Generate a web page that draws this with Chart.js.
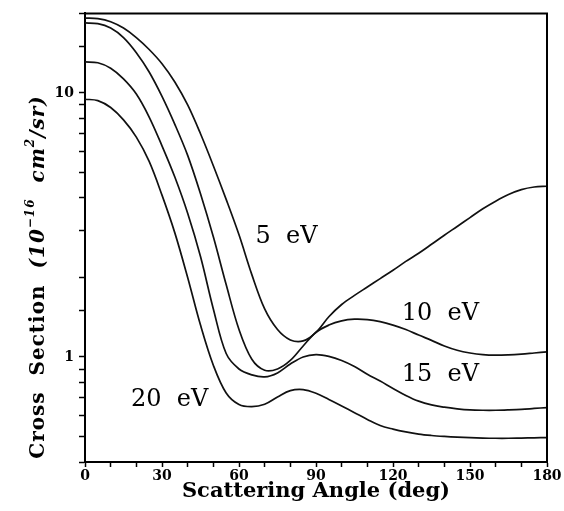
<!DOCTYPE html>
<html>
<head>
<meta charset="utf-8">
<script src="https://cdn.jsdelivr.net/npm/chart.js@4.4.1/dist/chart.umd.min.js"></script>
<style>
  body { margin: 0; background: #fff; }
  #wrap { width: 564px; height: 511px; position: relative; }
</style>
</head>
<body>
<div id="wrap"><canvas id="crossChart"></canvas></div>
<script>
// scattering angle, every 5 degrees from 0 to 180
const ANGLES = [0, 5, 10, 15, 20, 25, 30, 35, 40, 45, 50, 55, 60, 65, 70, 75, 80, 85, 90,
    95, 100, 105, 110, 115, 120, 125, 130, 135, 140, 145, 150, 155, 160, 165, 170, 175, 180];

const CS_5EV = [19.2, 19.1, 18.6, 17.6, 16.2, 14.6, 12.9, 11.0, 9.0, 7.0, 5.3, 3.95, 2.9, 2.05, 1.52, 1.27, 1.16, 1.15, 1.24,
    1.42, 1.58, 1.71, 1.84, 1.98, 2.13, 2.30, 2.47, 2.67, 2.89, 3.12, 3.37, 3.64, 3.89, 4.12, 4.30, 4.40, 4.43];
const CS_10EV = [18.4, 18.3, 17.6, 16.2, 14.2, 12.0, 9.7, 7.6, 5.8, 4.15, 2.85, 1.88, 1.27, 0.98, 0.89, 0.90, 0.97, 1.10, 1.24,
    1.32, 1.37, 1.39, 1.385, 1.36, 1.32, 1.27, 1.21, 1.155, 1.10, 1.06, 1.035, 1.02, 1.015, 1.018, 1.025, 1.035, 1.045];
const CS_15EV = [13.1, 13.0, 12.4, 11.3, 9.9, 8.1, 6.3, 4.8, 3.5, 2.4, 1.52, 1.03, 0.9, 0.855, 0.84, 0.87, 0.94, 1.00, 1.02,
    1.005, 0.97, 0.92, 0.86, 0.81, 0.76, 0.715, 0.68, 0.658, 0.645, 0.636, 0.63, 0.628, 0.628, 0.63, 0.633, 0.638, 0.643];
const CS_20EV = [9.46, 9.35, 8.8, 7.9, 6.8, 5.5, 4.1, 2.95, 2.0, 1.32, 0.93, 0.73, 0.66, 0.648, 0.662, 0.705, 0.745, 0.752, 0.728,
    0.69, 0.652, 0.615, 0.58, 0.55, 0.533, 0.52, 0.51, 0.504, 0.50, 0.497, 0.495, 0.493, 0.492, 0.492, 0.493, 0.494, 0.495];

const SERIES_NAMES = ['5  eV', '10  eV', '15  eV', '20  eV'];
const X_LABELED_TICKS = [0, 30, 60, 90, 120, 150, 180];
const Y_LABELED_TICKS = [1, 10];

// where the energy labels sit, in data units (angle, cross section)
const LABEL_SPOTS = [[78.5, 2.84], [138.5, 1.46], [138.5, 0.853], [33, 0.69]];

const SERIF = '"DejaVu Serif", serif';

const toPoints = function (values) {
    return ANGLES.map(function (a, i) {
        return { x: a, y: values[i] };
    });
}

const makeDataset = function (name, values) {
    return {
        label: name,
        data: toPoints(values),
        borderColor: '#111',
        borderWidth: 1.7,
        pointRadius: 0,
        fill: false,
        tension: 0.35
    }
}

const boxPlugin = {
    id: 'box',
    afterDraw: function (chart) {
        const { ctx, chartArea } = chart;
        ctx.save();
        ctx.strokeStyle = '#000';
        ctx.lineWidth = 2;
        ctx.beginPath();
        ctx.moveTo(chartArea.left, chartArea.top);
        ctx.lineTo(chartArea.right, chartArea.top);
        ctx.lineTo(chartArea.right, chartArea.bottom);
        ctx.stroke();
        ctx.restore();
    }
}

const curveLabelPlugin = {
    id: 'curveLabels',
    afterDatasetsDraw: function (chart) {
        const ctx = chart.ctx;
        const xs = chart.scales.x;
        const ys = chart.scales.y;
        ctx.save();
        ctx.fillStyle = '#000';
        ctx.font = '24px ' + SERIF;
        ctx.textAlign = 'center';
        ctx.textBaseline = 'middle';
        SERIES_NAMES.forEach(function (name, i) {
            const spot = LABEL_SPOTS[i];
            ctx.fillText(name, xs.getPixelForValue(spot[0]), ys.getPixelForValue(spot[1]));
        });
        ctx.restore();
    }
}

// y title has superscripts and an italic unit part, so it is drawn by hand
const yTitlePlugin = {
    id: 'yTitle',
    afterDraw: function (chart) {
        const ctx = chart.ctx;
        const parts = [
            { t: 'Cross  Section  ', f: 'bold 20px ' + SERIF, up: 0 },
            { t: '(10', f: 'italic bold 20px ' + SERIF, up: 0 },
            { t: '\u221216', f: 'italic bold 12px ' + SERIF, up: 8 },
            { t: '  cm', f: 'italic bold 20px ' + SERIF, up: 0 },
            { t: '2', f: 'italic bold 12px ' + SERIF, up: 8 },
            { t: '/sr)', f: 'italic bold 20px ' + SERIF, up: 0 }
        ];
        ctx.save();
        ctx.letterSpacing = '1px';
        let total = 0;
        parts.forEach(function (p) {
            ctx.font = p.f;
            p.w = ctx.measureText(p.t).width;
            total += p.w;
        });
        ctx.translate(38, 277);
        ctx.rotate(-Math.PI / 2);
        ctx.fillStyle = '#000';
        ctx.textBaseline = 'middle';
        ctx.textAlign = 'left';
        let x = -total / 2;
        parts.forEach(function (p) {
            ctx.font = p.f;
            ctx.fillText(p.t, x, -p.up + 1);
            x += p.w;
        });
        ctx.restore();
    }
}

const chart = new Chart(document.getElementById('crossChart'), {
    type: 'line',
    data: {
        datasets: [
            makeDataset(SERIES_NAMES[0], CS_5EV),
            makeDataset(SERIES_NAMES[1], CS_10EV),
            makeDataset(SERIES_NAMES[2], CS_15EV),
            makeDataset(SERIES_NAMES[3], CS_20EV)
        ]
    },
    options: {
        responsive: true,
        maintainAspectRatio: false,
        animation: false,
        layout: { padding: { top: 13, right: 17, left: 0, bottom: 0 } },
        plugins: {
            legend: { display: false },
            tooltip: { enabled: false }
        },
        scales: {
            x: {
                type: 'linear',
                min: 0,
                max: 180,
                afterFit: function (scale) { scale.height = 49; },
                border: { color: '#000', width: 2 },
                grid: { drawOnChartArea: false, tickLength: 5, tickColor: '#000', tickWidth: 1.5 },
                ticks: {
                    stepSize: 10,
                    autoSkip: false,
                    maxRotation: 0,
                    padding: 1,
                    color: '#000',
                    font: { family: SERIF, size: 14, weight: 'bold' },
                    callback: function (value) {
                        return X_LABELED_TICKS.includes(value) ? String(value) : '';
                    }
                },
                title: {
                    display: true,
                    text: 'Scattering Angle (deg)',
                    color: '#000',
                    font: { family: SERIF, size: 21, weight: 'bold' },
                    padding: { top: 0, bottom: 7 }
                }
            },
            y: {
                type: 'logarithmic',
                min: 0.4,
                max: 20,
                afterFit: function (scale) { scale.width = 85; },
                border: { color: '#000', width: 2 },
                grid: { drawOnChartArea: false, tickLength: 6, tickColor: '#000', tickWidth: 1.5 },
                ticks: {
                    autoSkip: false,
                    padding: 5,
                    color: '#000',
                    font: { family: SERIF, size: 14, weight: 'bold' },
                    callback: function (value) {
                        const v = Number(value);
                        const hit = Y_LABELED_TICKS.find(function (t) { return Math.abs(v - t) < 1e-6; });
                        return hit !== undefined ? String(hit) : '';
                    }
                }
            }
        }
    },
    plugins: [boxPlugin, curveLabelPlugin, yTitlePlugin]
});
</script>
</body>
</html>
